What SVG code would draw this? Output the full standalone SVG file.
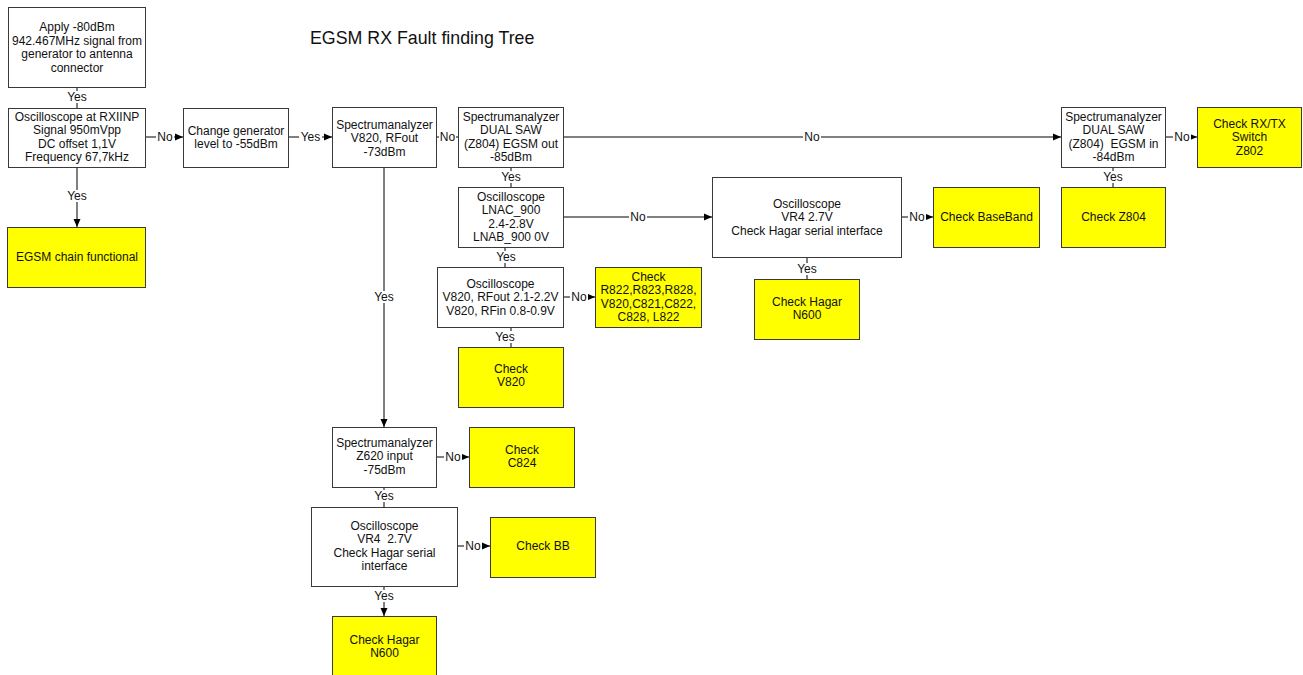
<svg xmlns="http://www.w3.org/2000/svg" width="1303" height="675" viewBox="0 0 1303 675">
  <style>
    .box { fill: #ffffff; stroke: #3a3a3a; stroke-width: 1; }
    .ok { fill: #ffff00; stroke: #3a3a3a; stroke-width: 1; }
    text { font-family: "Liberation Sans", Arial, sans-serif; font-size: 12px; fill: #111111; text-anchor: middle; }
    .pre { white-space: pre; }
    .title { font-size: 17.8px; text-anchor: start; }
    .wire { stroke: #000000; stroke-width: 1; fill: none; }
    .arrow { marker-end: url(#head); }
    .lbg { fill: #ffffff; }
  </style>
  <defs>
    <marker id="head" markerUnits="userSpaceOnUse" markerWidth="8" markerHeight="8" viewBox="0 0 8 8" refX="8" refY="4" orient="auto">
      <path d="M0,0.5 L8,4 L0,7.5 Z" fill="#000000"/>
    </marker>
  </defs>

  <rect width="1303" height="675" fill="#ffffff"/>

  <text class="title" x="310" y="44">EGSM RX Fault finding Tree</text>

  <!-- connectors -->
  <g id="connectors">
    <!-- A -> B -->
    <line class="wire" x1="77" y1="87" x2="77" y2="108"/>
    <!-- B -> chain functional -->
    <line class="wire arrow" x1="77" y1="167" x2="77" y2="227"/>
    <!-- B -> C -->
    <line class="wire arrow" x1="146" y1="137" x2="183" y2="137"/>
    <!-- C -> D -->
    <line class="wire arrow" x1="289" y1="137" x2="332" y2="137"/>
    <!-- D -> E -->
    <line class="wire" x1="437" y1="137" x2="458" y2="137"/>
    <!-- E -> N -->
    <line class="wire arrow" x1="564" y1="137" x2="1061" y2="137"/>
    <!-- N -> O -->
    <line class="wire arrow" x1="1166" y1="137" x2="1197" y2="137"/>
    <!-- N -> P -->
    <line class="wire" x1="1113" y1="167" x2="1113" y2="187"/>
    <!-- E -> F -->
    <line class="wire" x1="511" y1="167" x2="511" y2="187"/>
    <!-- F -> K -->
    <line class="wire arrow" x1="564" y1="217" x2="712" y2="217"/>
    <!-- F -> G -->
    <line class="wire" x1="505" y1="247" x2="505" y2="267"/>
    <!-- G -> H -->
    <line class="wire arrow" x1="564" y1="297" x2="595" y2="297"/>
    <!-- G -> I -->
    <line class="wire" x1="511" y1="327" x2="511" y2="347"/>
    <!-- K -> L -->
    <line class="wire arrow" x1="902" y1="217" x2="933" y2="217"/>
    <!-- K -> M -->
    <line class="wire" x1="807" y1="257" x2="807" y2="279"/>
    <!-- D -> J -->
    <line class="wire arrow" x1="384" y1="167" x2="384" y2="427"/>
    <!-- J -> Q -->
    <line class="wire arrow" x1="437" y1="457" x2="469" y2="457"/>
    <!-- J -> R -->
    <line class="wire" x1="384" y1="487" x2="384" y2="507"/>
    <!-- R -> S -->
    <line class="wire arrow" x1="458" y1="546" x2="490" y2="546"/>
    <!-- R -> T -->
    <line class="wire arrow" x1="384" y1="586" x2="384" y2="616"/>

    <!-- labels on the wires -->
    <g id="wire-labels">
      <rect class="lbg" x="65" y="91" width="24" height="12"/><text x="77" y="101">Yes</text>
      <rect class="lbg" x="65" y="190" width="24" height="12"/><text x="77" y="200">Yes</text>
      <rect class="lbg" x="156" y="131" width="18" height="12"/><text x="165" y="141">No</text>
      <rect class="lbg" x="299" y="131" width="23" height="12"/><text x="310.5" y="141">Yes</text>
      <rect class="lbg" x="439" y="131" width="17" height="12"/><text x="447.5" y="141">No</text>
      <rect class="lbg" x="803" y="131" width="18" height="12"/><text x="812" y="141">No</text>
      <rect class="lbg" x="1173" y="131" width="18" height="12"/><text x="1182" y="141">No</text>
      <rect class="lbg" x="1101" y="171" width="24" height="12"/><text x="1113" y="181">Yes</text>
      <rect class="lbg" x="499" y="171" width="24" height="12"/><text x="511" y="181">Yes</text>
      <rect class="lbg" x="629" y="211" width="18" height="12"/><text x="638" y="221">No</text>
      <rect class="lbg" x="494" y="251" width="24" height="12"/><text x="506" y="261">Yes</text>
      <rect class="lbg" x="570" y="291" width="18" height="12"/><text x="579" y="301">No</text>
      <rect class="lbg" x="493" y="331" width="24" height="12"/><text x="505" y="341">Yes</text>
      <rect class="lbg" x="908" y="211" width="18" height="12"/><text x="917" y="221">No</text>
      <rect class="lbg" x="795" y="263" width="24" height="12"/><text x="807" y="273">Yes</text>
      <rect class="lbg" x="372" y="291" width="24" height="12"/><text x="384" y="301">Yes</text>
      <rect class="lbg" x="444" y="451" width="18" height="12"/><text x="453" y="461">No</text>
      <rect class="lbg" x="372" y="490" width="24" height="12"/><text x="384" y="500">Yes</text>
      <rect class="lbg" x="464" y="540" width="18" height="12"/><text x="473" y="550">No</text>
      <rect class="lbg" x="372" y="590" width="24" height="12"/><text x="384" y="600">Yes</text>
    </g>
  </g>

  <!-- nodes -->
  <g id="apply-signal">
    <rect class="box" x="8.5" y="7.5" width="137" height="80"/>
    <text x="77" y="31">Apply -80dBm<tspan x="77" dy="13.5">942.467MHz signal from</tspan><tspan x="77" dy="13.5">generator to antenna</tspan><tspan x="77" dy="13.5">connector</tspan></text>
  </g>

  <g id="scope-rxiinp">
    <rect class="box" x="8.5" y="108.5" width="137" height="59"/>
    <text x="77" y="121">Oscilloscope at RXIINP<tspan x="77" dy="13.3">Signal 950mVpp</tspan><tspan x="77" dy="13.3">DC offset 1,1V</tspan><tspan x="77" dy="13.3">Frequency 67,7kHz</tspan></text>
  </g>

  <g id="chain-functional">
    <rect class="ok" x="7.5" y="227.5" width="138" height="60"/>
    <text x="77" y="261">EGSM chain functional</text>
  </g>

  <g id="change-level">
    <rect class="box" x="183.5" y="108.5" width="105" height="59"/>
    <text x="236" y="135">Change generator<tspan x="236" dy="13.3">level to -55dBm</tspan></text>
  </g>

  <g id="sa-v820-rfout">
    <rect class="box" x="332.5" y="107.5" width="104" height="60"/>
    <text x="384.5" y="129">Spectrumanalyzer<tspan x="384.5" dy="13.3">V820, RFout</tspan><tspan x="384.5" dy="13.3">-73dBm</tspan></text>
  </g>

  <g id="sa-saw-out">
    <rect class="box" x="458.5" y="107.5" width="105" height="60"/>
    <text x="511" y="121">Spectrumanalyzer<tspan x="511" dy="13.3">DUAL SAW</tspan><tspan x="511" dy="13.3">(Z804) EGSM out</tspan><tspan x="511" dy="13.3">-85dBm</tspan></text>
  </g>

  <g id="scope-lna">
    <rect class="box" x="458.5" y="187.5" width="105" height="60"/>
    <text x="511" y="201">Oscilloscope<tspan x="511" dy="13.3">LNAC_900</tspan><tspan x="511" dy="13.3">2.4-2.8V</tspan><tspan x="511" dy="13.3">LNAB_900 0V</tspan></text>
  </g>

  <g id="scope-v820">
    <rect class="box" x="437.5" y="267.5" width="126" height="60"/>
    <text x="500.5" y="288">Oscilloscope<tspan x="500.5" dy="13.3">V820, RFout 2.1-2.2V</tspan><tspan x="500.5" dy="13.3">V820, RFin 0.8-0.9V</tspan></text>
  </g>

  <g id="check-components">
    <rect class="ok" x="595.5" y="267.5" width="106" height="60"/>
    <text x="648.5" y="281">Check<tspan x="648.5" dy="13.3">R822,R823,R828,</tspan><tspan x="648.5" dy="13.3">V820,C821,C822,</tspan><tspan x="648.5" dy="13.3">C828, L822</tspan></text>
  </g>

  <g id="check-v820">
    <rect class="ok" x="458.5" y="347.5" width="105" height="60"/>
    <text x="511" y="373">Check<tspan x="511" dy="13.3">V820</tspan></text>
  </g>

  <g id="sa-z620">
    <rect class="box" x="332.5" y="427.5" width="104" height="60"/>
    <text x="384.5" y="447">Spectrumanalyzer<tspan x="384.5" dy="13.3">Z620 input</tspan><tspan x="384.5" dy="13.3">-75dBm</tspan></text>
  </g>

  <g id="check-c824">
    <rect class="ok" x="469.5" y="427.5" width="105" height="60"/>
    <text x="522" y="454">Check<tspan x="522" dy="13.3">C824</tspan></text>
  </g>

  <g id="scope-vr4-lower">
    <rect class="box" x="311.5" y="507.5" width="146" height="79"/>
    <text class="pre" x="384.5" y="530">Oscilloscope<tspan x="384.5" dy="13.3">VR4  2.7V</tspan><tspan x="384.5" dy="13.3">Check Hagar serial</tspan><tspan x="384.5" dy="13.3">interface</tspan></text>
  </g>

  <g id="check-bb">
    <rect class="ok" x="490.5" y="517.5" width="105" height="60"/>
    <text x="543" y="550">Check BB</text>
  </g>

  <g id="check-hagar-lower">
    <rect class="ok" x="332.5" y="616.5" width="104" height="62"/>
    <text x="384.5" y="644">Check Hagar<tspan x="384.5" dy="13.3">N600</tspan></text>
  </g>

  <g id="scope-vr4-upper">
    <rect class="box" x="712.5" y="177.5" width="189" height="80"/>
    <text x="807" y="208">Oscilloscope<tspan x="807" dy="13.3">VR4 2.7V</tspan><tspan x="807" dy="13.3">Check Hagar serial interface</tspan></text>
  </g>

  <g id="check-baseband">
    <rect class="ok" x="933.5" y="187.5" width="106" height="60"/>
    <text x="986.5" y="221">Check BaseBand</text>
  </g>

  <g id="check-hagar-upper">
    <rect class="ok" x="754.5" y="279.5" width="105" height="60"/>
    <text x="807" y="306">Check Hagar<tspan x="807" dy="13.3">N600</tspan></text>
  </g>

  <g id="sa-saw-in">
    <rect class="box" x="1061.5" y="107.5" width="104" height="60"/>
    <text class="pre" x="1113.5" y="121">Spectrumanalyzer<tspan x="1113.5" dy="13.3">DUAL SAW</tspan><tspan x="1113.5" dy="13.3">(Z804)  EGSM in</tspan><tspan x="1113.5" dy="13.3">-84dBm</tspan></text>
  </g>

  <g id="check-switch">
    <rect class="ok" x="1197.5" y="107.5" width="104" height="60"/>
    <text x="1249.5" y="128">Check RX/TX<tspan x="1249.5" dy="13.3">Switch</tspan><tspan x="1249.5" dy="13.3">Z802</tspan></text>
  </g>

  <g id="check-z804">
    <rect class="ok" x="1061.5" y="187.5" width="104" height="60"/>
    <text x="1113.5" y="221">Check Z804</text>
  </g>
</svg>
